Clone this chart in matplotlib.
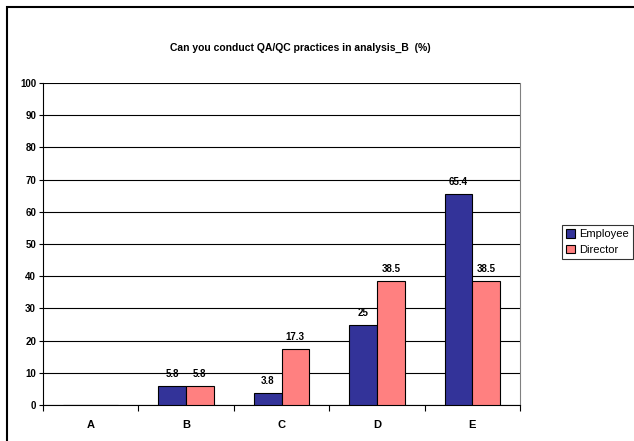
import numpy as np
import matplotlib.pyplot as plt
from matplotlib.patches import Rectangle

categories = ["A", "B", "C", "D", "E"]
employee = [0, 5.8, 3.8, 25, 65.4]
director = [0, 5.8, 17.3, 38.5, 38.5]

plt.rcParams['font.family'] = ['Liberation Sans', 'DejaVu Sans']

fig = plt.figure(figsize=(6.34, 4.41), dpi=100)
W, H = 634, 441
ax = fig.add_axes([43 / W, 1 - 405 / H, (520 - 43) / W, (405 - 83) / H])

# outer chart frame (only top and left edges fall inside the image)
fig.patches.append(Rectangle((7 / W, -0.1), 1.2, 1 - 7 / H + 0.1, transform=fig.transFigure,
                             fill=False, edgecolor='black', linewidth=1.5))

x = np.arange(len(categories))
bw = 0.29
b1 = ax.bar(x - bw / 2, employee, bw, color='#333399', edgecolor='black', linewidth=0.8,
            label='Employee', zorder=3)
b2 = ax.bar(x + bw / 2, director, bw, color='#FF8080', edgecolor='black', linewidth=0.8,
            label='Director', zorder=3)

for bars, vals in ((b1, employee), (b2, director)):
    for b, v in zip(bars, vals):
        if v == 0:
            continue
        ax.annotate(f"{v:g}", (b.get_x() + b.get_width() / 2, v), xytext=(0, 5),
                    textcoords='offset points', ha='center', va='bottom',
                    fontsize=7, fontweight='bold')

ax.set_xlim(-0.5, len(categories) - 0.5)
ax.set_ylim(0, 100)
ax.set_yticks(range(0, 101, 10))
ax.set_yticklabels([str(v) for v in range(0, 101, 10)], fontsize=7, fontweight='bold')
ax.yaxis.grid(True, color='black', linewidth=0.8)
ax.set_axisbelow(True)

ax.set_xticks(x)
ax.set_xticklabels(categories, fontsize=8, fontweight='bold')
ax.tick_params(axis='x', length=0, pad=11)
ax.set_xticks(np.arange(-0.5, len(categories)), minor=True)
ax.tick_params(axis='x', which='minor', length=4, direction='out', width=0.8)
ax.tick_params(axis='y', length=3, width=0.8, pad=2)

ax.spines['top'].set_visible(False)
ax.spines['right'].set_color('#808080')
ax.spines['right'].set_linewidth(0.8)
ax.spines['left'].set_color('black')
ax.spines['bottom'].set_color('black')

fig.text(300 / W, 1 - 48 / H, "Can you conduct QA/QC practices in analysis_B  (%)",
         ha='center', va='center', fontsize=7.5, fontweight='bold')

leg = fig.legend(handles=[b1, b2], loc='center left', bbox_to_anchor=(562 / W, 1 - 242 / H),
                 fontsize=8, frameon=True, fancybox=False, edgecolor='black',
                 handlelength=0.8, handleheight=0.8, handletextpad=0.3,
                 borderpad=0.4, labelspacing=0.5, borderaxespad=0)
leg.get_frame().set_linewidth(0.8)

fig.savefig("out.png", dpi=100)
